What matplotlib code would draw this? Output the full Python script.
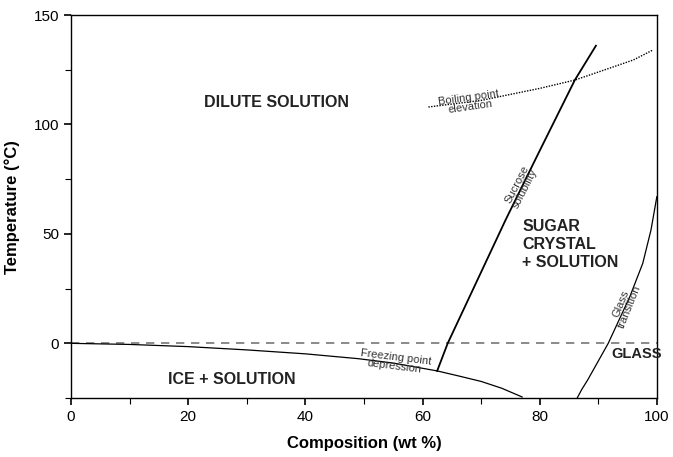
import matplotlib.pyplot as plt
from matplotlib.ticker import MultipleLocator

plt.rcParams['font.family'] = ['Liberation Sans', 'DejaVu Sans']

# freezing point depression curve
freeze_x = [0, 10, 20, 30, 40, 49, 55, 62.5, 66, 70, 73.5, 77]
freeze_t = [0, -0.5, -1.5, -3, -4.8, -7, -9, -12.6, -14.8, -17.4, -20.5, -24.5]

# sucrose solubility curve
sol_x = [62.5, 64.3, 74.2, 80, 86, 89.6]
sol_t = [-12.6, 0, 56.5, 88, 120.3, 136]

# boiling point elevation curve
boil_x = [61, 70, 80, 86, 92, 96, 99.3]
boil_t = [108, 111, 116.5, 120.3, 125.8, 129.5, 134]

# glass transition curve
glass_x = [86.4, 87.2, 88.2, 91.7, 95.4, 97.6, 99, 100]
glass_t = [-25, -21, -16.7, 0, 21.4, 36.6, 51.8, 67]

fig = plt.figure(figsize=(6.73, 4.57), dpi=100)
ax = fig.add_axes([0.1055, 0.129, 0.8705, 0.838])

ax.axhline(0, color='#777777', lw=1.2, ls=(0, (5, 4)))
ax.plot(freeze_x, freeze_t, color='black', lw=0.9)
ax.plot(sol_x, sol_t, color='black', lw=1.3)
ax.plot(boil_x, boil_t, color='black', lw=1.0, ls=(0, (1, 1)))
ax.plot(glass_x, glass_t, color='black', lw=0.9)

ax.set_xlim(0, 100)
ax.set_ylim(-25, 150)
ax.xaxis.set_major_locator(MultipleLocator(20))
ax.xaxis.set_minor_locator(MultipleLocator(10))
ax.yaxis.set_major_locator(MultipleLocator(50))
ax.yaxis.set_minor_locator(MultipleLocator(25))
ax.tick_params(which='both', direction='out', labelsize=11, colors='black')
ax.tick_params(which='major', length=5, width=1.2)
ax.tick_params(which='minor', length=4, width=0.8)
for s in ax.spines.values():
    s.set_linewidth(1.0)

ax.set_xlabel('Composition (wt %)', fontsize=12, fontweight='bold', labelpad=9)
ax.set_ylabel('Temperature (°C)', fontsize=12, fontweight='bold', labelpad=10)

bold = dict(fontsize=11.5, fontweight='bold', color='#222222')
ax.text(35, 110, 'DILUTE SOLUTION', ha='center', va='center', **bold)
ax.text(27.5, -16.7, 'ICE + SOLUTION', ha='center', va='center', **bold)
ax.text(77, 45, 'SUGAR\nCRYSTAL\n+ SOLUTION', ha='left', va='center',
        linespacing=1.25, **bold)
ax.text(96.6, -5, 'GLASS', ha='center', va='center', fontsize=10.5,
        fontweight='bold', color='#222222')

small = dict(fontsize=8, color='#333333', ha='center', va='center', linespacing=0.9)
ax.text(55.3, -8.5, 'Freezing point\ndepression', rotation=-7, **small)
ax.text(68, 110, 'Boiling point\nelevation', rotation=8, **small)
ax.text(76.8, 71.5, 'Sucrose\nsolubility', rotation=63, **small)
ax.text(94.6, 17.5, 'Glass\ntransition', rotation=68, **small)

fig.savefig('out.png', dpi=100)
